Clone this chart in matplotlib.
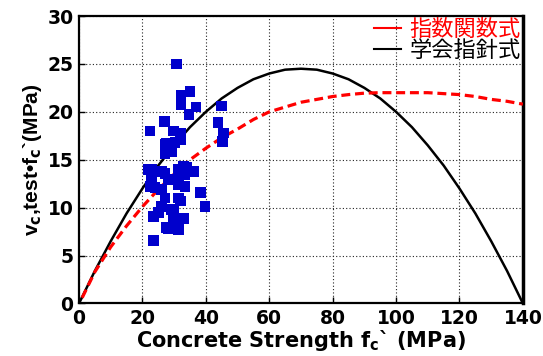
import matplotlib
matplotlib.use('Agg')
import matplotlib.pyplot as plt
from matplotlib.lines import Line2D

plt.rcParams['font.family'] = ['DejaVu Sans']
plt.rcParams['mathtext.fontset'] = 'custom'
plt.rcParams['mathtext.rm'] = 'DejaVu Sans:bold'
plt.rcParams['mathtext.it'] = 'DejaVu Sans:bold'
plt.rcParams['mathtext.bf'] = 'DejaVu Sans:bold'

# test data (fc', vc)
test_fc = [30.8, 35.0, 32.2, 32.2, 36.9, 34.7, 45.0, 26.9, 43.8, 22.4,
           45.5, 45.3, 29.8, 31.9, 31.9, 27.7, 30.3, 27.1, 29.2, 22.9,
           26.1, 31.3, 34.0, 36.1, 33.4, 22.9, 28.2, 31.3, 22.4, 33.4,
           38.2, 39.7, 24.0, 27.1, 31.3, 26.1, 29.7, 23.4, 29.7, 27.7,
           31.3, 23.4, 24.5, 27.1, 28.7, 27.1, 32.9, 30.8, 26.1, 31.9,
           29.2, 28.2, 21.9, 25.0, 33.0]
test_vc = [25.0, 22.1, 21.7, 20.8, 20.5, 19.7, 20.6, 19.0, 18.9, 18.0,
           17.8, 16.9, 18.0, 17.8, 17.1, 16.7, 16.8, 15.6, 15.9, 14.0,
           13.8, 14.0, 14.2, 13.8, 13.5, 12.8, 12.9, 12.4, 12.2, 12.2,
           11.6, 10.1, 12.1, 11.0, 11.0, 10.1, 9.8, 9.1, 8.7, 7.9,
           7.7, 6.6, 13.8, 13.6, 15.9, 16.6, 14.3, 12.9, 11.9, 10.7,
           9.8, 7.8, 14.0, 9.5, 8.9]

# 指数関数式 curve
exp_fc = [1, 5, 10, 15, 20, 25, 30, 35, 40, 45, 50, 55, 60, 65, 70, 75, 80,
          85, 90, 95, 100, 105, 110, 115, 120, 125, 130, 135, 140]
exp_vc = [0.6, 3.3, 5.9, 8.1, 10.1, 11.9, 13.5, 15.0, 16.2, 17.3, 18.2, 19.2,
          20.0, 20.5, 21.0, 21.3, 21.6, 21.8, 21.95, 22.0, 22.0, 22.0, 22.0,
          21.9, 21.8, 21.6, 21.3, 21.1, 20.8]

# 学会指針式 curve
aij_fc = [0, 5, 10, 15, 20, 25, 30, 35, 40, 45, 50, 55, 60, 65, 70,
          75, 80, 85, 90, 95, 100, 105, 110, 115, 120, 125, 130, 135, 140]
aij_vc = [0.0, 3.4, 6.5, 9.4, 12.0, 14.4, 16.5, 18.4, 20.0, 21.4, 22.5, 23.4,
          24.0, 24.4, 24.5, 24.4, 24.0, 23.4, 22.5, 21.4, 20.0, 18.4, 16.5,
          14.4, 12.0, 9.4, 6.5, 3.4, 0.0]

fig = plt.figure(figsize=(5.43, 3.56), dpi=100)
ax = fig.add_axes([0.1455, 0.1475, 0.8175, 0.8075])

ax.plot(aij_fc, aij_vc, color='black', lw=1.8, zorder=3)
ax.plot(exp_fc, exp_vc, color='red', lw=2.3, dashes=(2.8, 1.5), zorder=3)
ax.scatter(test_fc, test_vc, marker='s', s=60, color='#0000CC', edgecolors='none', zorder=4)

ax.set_xlim(0, 140)
ax.set_ylim(0, 30)
ax.set_xticks(range(0, 141, 20))
ax.set_yticks(range(0, 31, 5))
ax.grid(True, color='#222222', linestyle=(0, (1, 2)), linewidth=0.8)
ax.tick_params(direction='in', length=4, width=1, labelsize=13.5, pad=4)
for lbl in ax.get_xticklabels() + ax.get_yticklabels():
    lbl.set_fontweight('bold')
for s in ax.spines.values():
    s.set_linewidth(1.6)
ax.spines['right'].set_linewidth(2.5)

ax.set_xlabel('Concrete Strength f$_\\mathrm{c}$` (MPa)', fontsize=15,
              fontweight='bold', labelpad=0)
ax.set_ylabel('v$_\\mathrm{c}$,test\u2022f$_\\mathrm{c}$`(MPa)', fontsize=15,
              family=['Liberation Sans'], fontweight='bold')
ax.yaxis.set_label_coords(-0.078, 0.5)

handles = [Line2D([], [], color='red', lw=1.5), Line2D([], [], color='black', lw=1.5)]
leg = ax.legend(handles, ['指数関数式', '学会指針式'], loc='upper right', frameon=False,
                prop={'family': ['Noto Sans CJK JP'], 'size': 16},
                handlelength=1.2, handletextpad=0.4, borderaxespad=0.1,
                labelspacing=-0.1, borderpad=0.0)
leg.get_texts()[0].set_color('red')

fig.savefig('out.png', dpi=100)
